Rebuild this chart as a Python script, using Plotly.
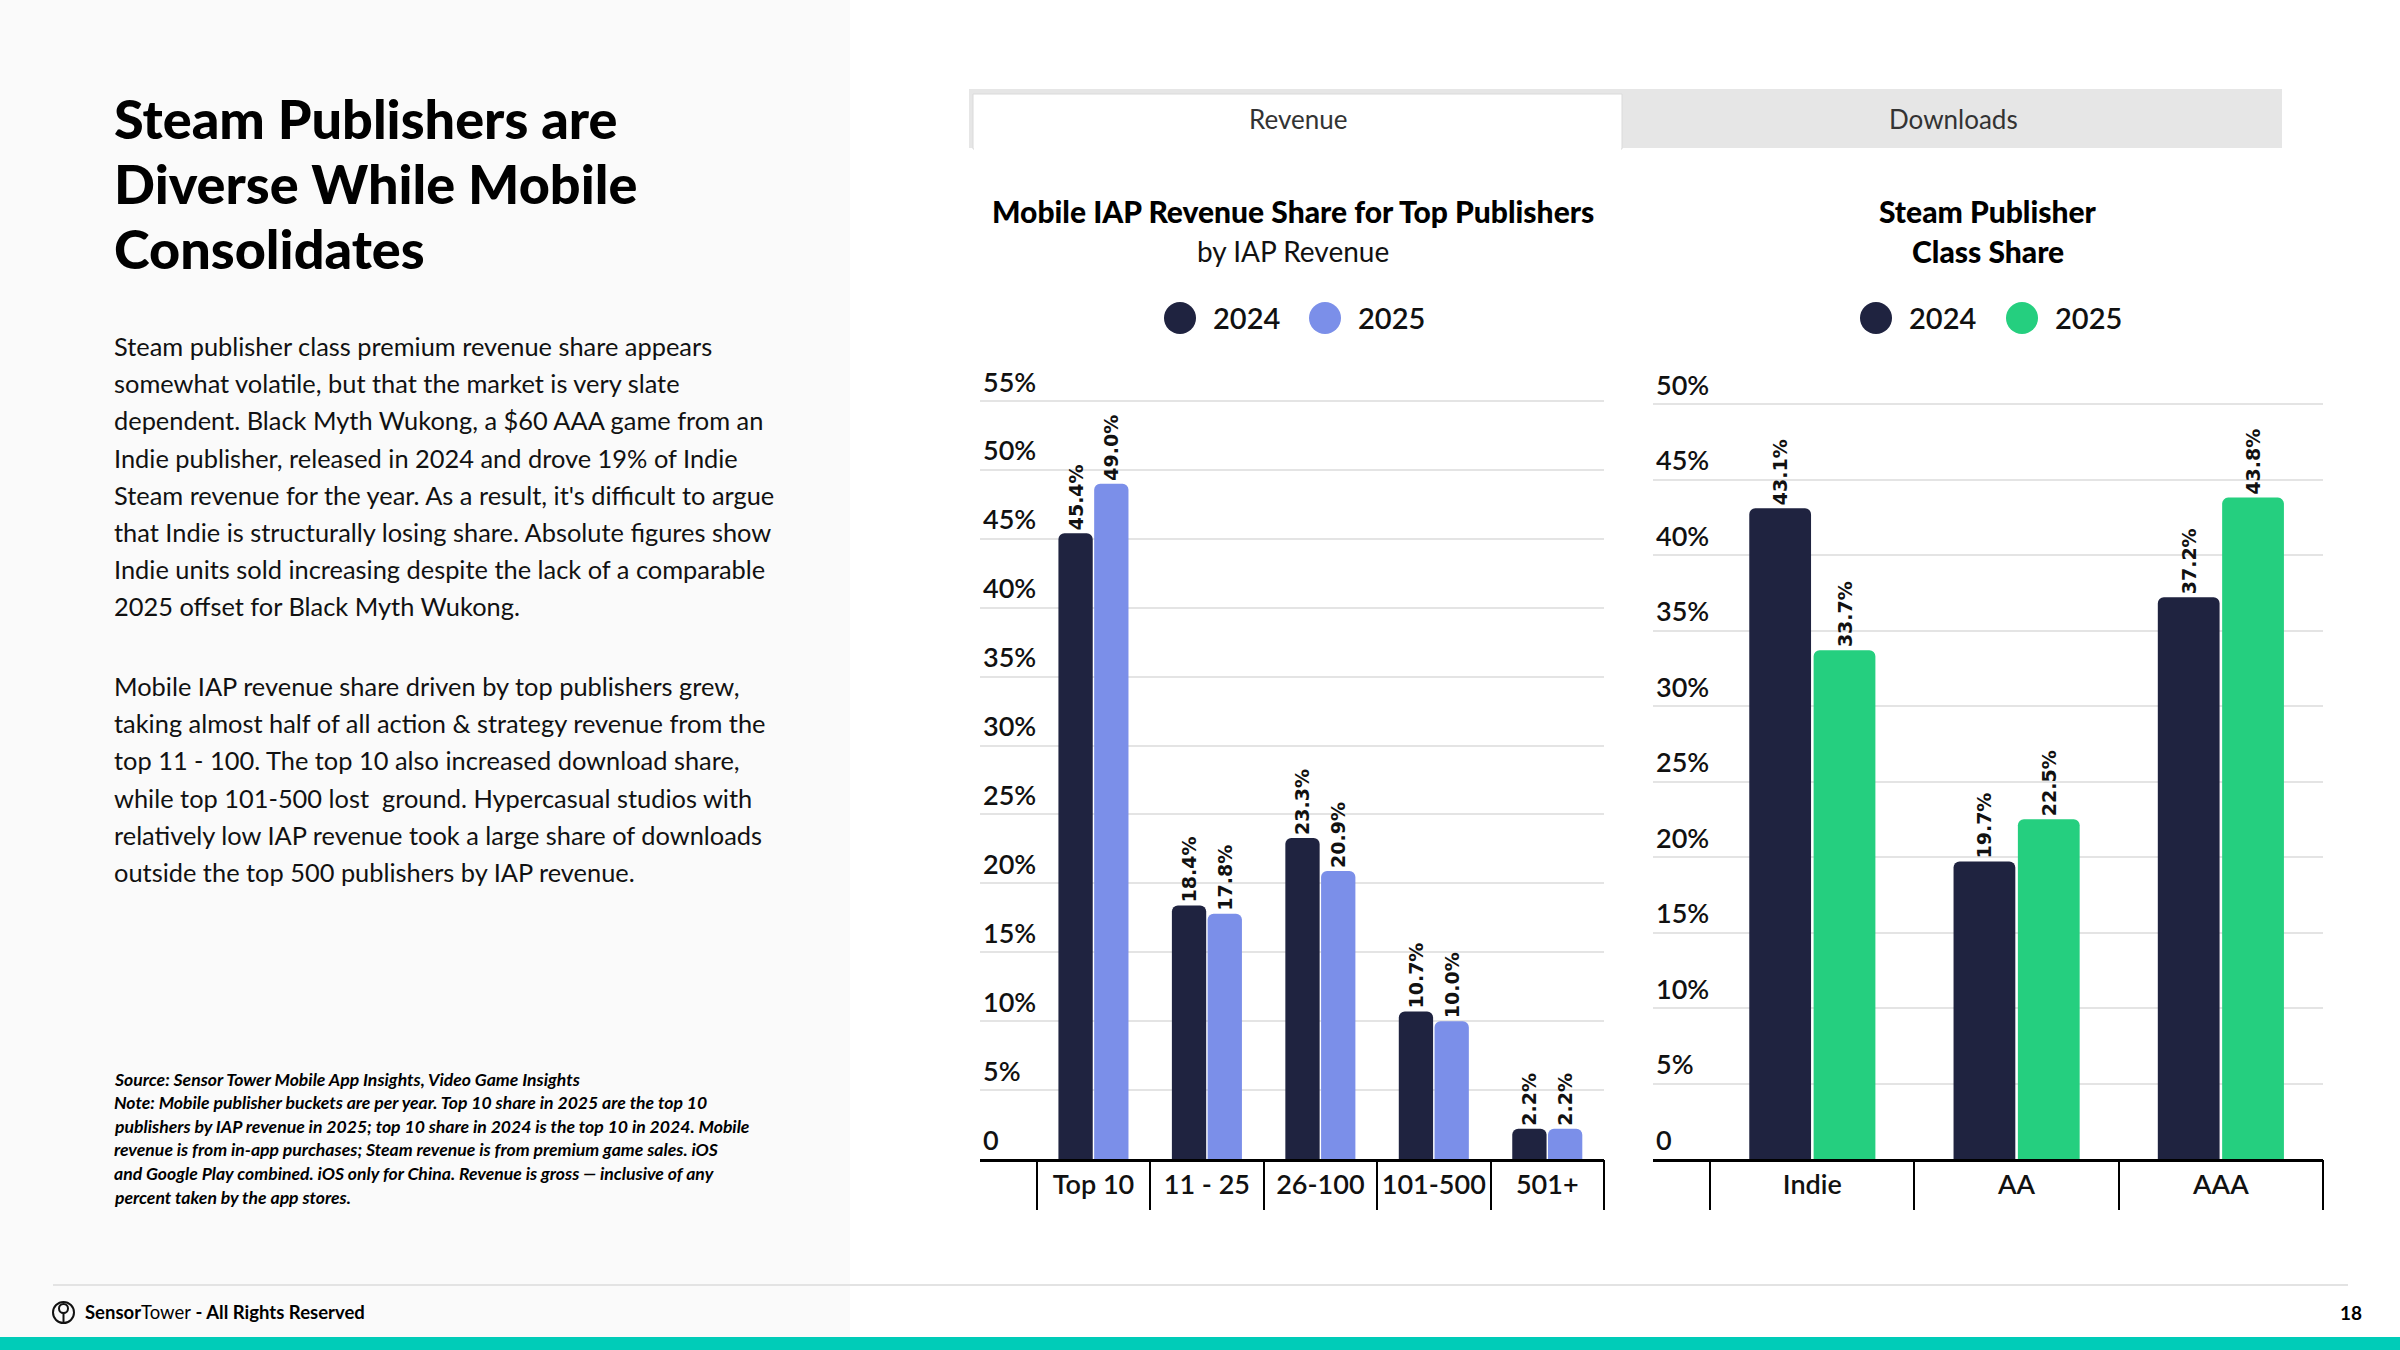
import plotly.graph_objects as go

W, H = 2400, 1350

# data
rev_cats = ["Top 10", "11 - 25", "26-100", "101-500", "501+"]
rev_2024 = [45.4, 18.4, 23.3, 10.7, 2.2]
rev_2025 = [49.0, 17.8, 20.9, 10.0, 2.2]

steam_cats = ["Indie", "AA", "AAA"]
steam_2024 = [43.1, 19.7, 37.2]
steam_2025 = [33.7, 22.5, 43.8]

years = ["2024", "2025"]
navy = "#1F2340"
rev_colors = [navy, "#7B8FE9"]
steam_colors = [navy, "#25CF7F"]

rev_ticks = list(range(0, 56, 5))
steam_ticks = list(range(0, 51, 5))

title_lines = ["Steam Publishers are", "Diverse While Mobile", "Consolidates"]
para1 = [
    "Steam publisher class premium revenue share appears",
    "somewhat volatile, but that the market is very slate",
    "dependent. Black Myth Wukong, a $60 AAA game from an",
    "Indie publisher, released in 2024 and drove 19% of Indie",
    "Steam revenue for the year. As a result, it's difficult to argue",
    "that Indie is structurally losing share. Absolute figures show",
    "Indie units sold increasing despite the lack of a comparable",
    "2025 offset for Black Myth Wukong.",
]
para2 = [
    "Mobile IAP revenue share driven by top publishers grew,",
    "taking almost half of all action & strategy revenue from the",
    "top 11 - 100. The top 10 also increased download share,",
    "while top 101-500 lost  ground. Hypercasual studios with",
    "relatively low IAP revenue took a large share of downloads",
    "outside the top 500 publishers by IAP revenue.",
]
notes = [
    "Source: Sensor Tower Mobile App Insights, Video Game Insights",
    "Note: Mobile publisher buckets are per year. Top 10 share in 2025 are the top 10",
    "publishers by IAP revenue in 2025; top 10 share in 2024 is the top 10 in 2024. Mobile",
    "revenue is from in-app purchases; Steam revenue is from premium game sales. iOS",
    "and Google Play combined. iOS only for China. Revenue is gross \u2014 inclusive of any",
    "percent taken by the app stores.",
]


def fx(x):
    return x / W


def fy(y):
    return 1 - y / H


def pct_labels(ticks):
    return ["0" if t == 0 else f"{t}%" for t in ticks]


fig = go.Figure()

label_font = dict(family="DejaVu Sans", size=19, color="#111111", weight="bold")

for name, vals, col in zip(years, [rev_2024, rev_2025], rev_colors):
    fig.add_bar(x=rev_cats, y=vals, name=name, xaxis="x", yaxis="y",
                marker=dict(color=col, cornerradius=6, line_width=0),
                texttemplate="%{y:.1f}%", textposition="outside", textangle=-90,
                textfont=label_font, cliponaxis=False, constraintext="none",
                showlegend=False, hoverinfo="skip")

for name, vals, col in zip(years, [steam_2024, steam_2025], steam_colors):
    fig.add_bar(x=steam_cats, y=vals, name=name, xaxis="x2", yaxis="y2",
                marker=dict(color=col, cornerradius=6, line_width=0),
                texttemplate="%{y:.1f}%", textposition="outside", textangle=-90,
                textfont=label_font, cliponaxis=False, constraintext="none",
                showlegend=False, hoverinfo="skip")

# empty traces so the category-boundary tick axes get drawn
fig.add_scatter(x=[None], y=[None], xaxis="x3", yaxis="y", showlegend=False, hoverinfo="skip")
fig.add_scatter(x=[None], y=[None], xaxis="x4", yaxis="y2", showlegend=False, hoverinfo="skip")

tick_font = dict(family="Lato", size=27, color="#111111", weight=600)

yax = dict(showgrid=True, gridcolor="#E4E4E4", gridwidth=2, zeroline=False,
           ticks="", ticklabelposition="inside top", tickfont=tick_font,
           showline=False, tickmode="array")
xax = dict(type="category", showgrid=False, showline=True, linecolor="#000000",
           linewidth=3, ticks="", tickfont=tick_font, zeroline=False)
bound = dict(type="linear", showgrid=False, showline=False, zeroline=False,
             ticks="outside", ticklen=50, tickwidth=2, tickcolor="#000000",
             showticklabels=False, tickmode="array")

left_dom = [fx(980), fx(1604)]
right_dom = [fx(1653), fx(2323)]
left_rng = [-1.0, len(rev_cats) - 0.5]
right_rng = [-0.78, len(steam_cats) - 0.5]

# y ranges padded above the top tick so its inside label stays visible
left_top, right_top = 58, 53
left_px = (1159 - 401) / 55
right_px = (1159 - 404) / 50

fig.update_layout(
    width=W, height=H, margin=dict(l=0, r=0, t=0, b=0),
    paper_bgcolor="white", plot_bgcolor="rgba(0,0,0,0)",
    barmode="group", bargap=0.37, bargroupgap=0.04,
    showlegend=False,
    xaxis=dict(xax, domain=left_dom, range=left_rng, anchor="y"),
    yaxis=dict(yax, domain=[fy(1159), fy(1159 - left_top * left_px)], range=[0, left_top],
               anchor="x", tickvals=rev_ticks, ticktext=pct_labels(rev_ticks)),
    xaxis2=dict(xax, domain=right_dom, range=right_rng, anchor="y2"),
    yaxis2=dict(yax, domain=[fy(1159), fy(1159 - right_top * right_px)], range=[0, right_top],
                anchor="x2", tickvals=steam_ticks, ticktext=pct_labels(steam_ticks)),
    xaxis3=dict(bound, domain=left_dom, range=left_rng, anchor="y", overlaying="x",
                tickvals=[i - 0.5 for i in range(len(rev_cats) + 1)]),
    xaxis4=dict(bound, domain=right_dom, range=right_rng, anchor="y2", overlaying="x2",
                tickvals=[i - 0.5 for i in range(len(steam_cats) + 1)]),
)

shapes = [
    # left text panel
    dict(type="rect", xref="paper", yref="paper", x0=0, x1=fx(850), y0=fy(1337), y1=1,
         fillcolor="#FAFAFA", line_width=0, layer="below"),
    # tab bar
    dict(type="rect", xref="paper", yref="paper", x0=fx(969), x1=fx(2282), y0=fy(148), y1=fy(89),
         fillcolor="#E6E6E6", line_width=0, layer="below"),
    dict(type="rect", xref="paper", yref="paper", x0=fx(973), x1=fx(1622), y0=fy(149), y1=fy(94),
         fillcolor="#FFFFFF", line=dict(color="#DADADA", width=1), layer="below"),
    dict(type="rect", xref="paper", yref="paper", x0=fx(974), x1=fx(1621), y0=fy(152), y1=fy(140),
         fillcolor="#FFFFFF", line_width=0, layer="below"),
    # footer
    dict(type="line", xref="paper", yref="paper", x0=fx(53), x1=fx(2348), y0=fy(1285), y1=fy(1285),
         line=dict(color="#E3E3E3", width=2)),
    dict(type="rect", xref="paper", yref="paper", x0=0, x1=1, y0=0, y1=fy(1337),
         fillcolor="#00CCB8", line_width=0),
    # logo
    dict(type="circle", xref="paper", yref="paper", x0=fx(53), x1=fx(74), y0=fy(1323), y1=fy(1302),
         line=dict(color="#111111", width=2)),
    dict(type="circle", xref="paper", yref="paper", x0=fx(59), x1=fx(68), y0=fy(1313), y1=fy(1304),
         line=dict(color="#111111", width=2)),
    dict(type="line", xref="paper", yref="paper", x0=fx(63.5), x1=fx(63.5), y0=fy(1313), y1=fy(1322),
         line=dict(color="#111111", width=2)),
]

annotations = []


def txt(text, x, y, size, xanchor="left", weight="normal", color="#111111",
        family="Lato", style="normal"):
    annotations.append(dict(text=text, x=fx(x), y=fy(y), xref="paper", yref="paper",
                            xanchor=xanchor, yanchor="middle", showarrow=False,
                            font=dict(family=family, size=size, color=color,
                                      weight=weight, style=style)))


for i, line in enumerate(title_lines):
    txt(line, 112, 119 + i * 64.5, 54, weight=900, color="#000000")
for i, line in enumerate(para1):
    txt(line, 112, 346 + i * 37.2, 25.4)
for i, line in enumerate(para2):
    txt(line, 112, 686 + i * 37.2, 25.4)
for i, line in enumerate(notes):
    txt(line, 112, 1079 + i * 23.6, 17.6, weight="bold", style="italic", color="#000000")

txt("Revenue", 1298, 119, 26, xanchor="center", color="#333333")
txt("Downloads", 1953, 119, 26, xanchor="center", color="#333333")

txt("Mobile IAP Revenue Share for Top Publishers", 1293, 211, 30, xanchor="center",
    weight=900, color="#000000")
txt("by IAP Revenue", 1293, 251, 28, xanchor="center", color="#111111")
txt("Steam Publisher", 1988, 211, 30, xanchor="center", weight=900, color="#000000")
txt("Class Share", 1988, 251, 30, xanchor="center", weight=900, color="#000000")

# legends built from the series names and colours
for cx_list, colors in [([1180, 1325], rev_colors), ([1876, 2022], steam_colors)]:
    for cx, name, col in zip(cx_list, years, colors):
        shapes.append(dict(type="circle", xref="paper", yref="paper",
                           x0=fx(cx - 16), x1=fx(cx + 16), y0=fy(334), y1=fy(302),
                           fillcolor=col, line_width=0))
        txt(name, cx + 31, 318, 29, weight=600, color="#111111")

txt("<b>Sensor</b>Tower<b> - All Rights Reserved</b>", 83, 1312, 18.5, color="#000000")
txt("18", 2351, 1312, 19, xanchor="center", weight="bold", color="#000000")

fig.update_layout(shapes=shapes, annotations=annotations)

fig.write_html("out.html", config={"displayModeBar": False},
               post_script="document.body.style.margin='0';document.body.style.padding='0';")
